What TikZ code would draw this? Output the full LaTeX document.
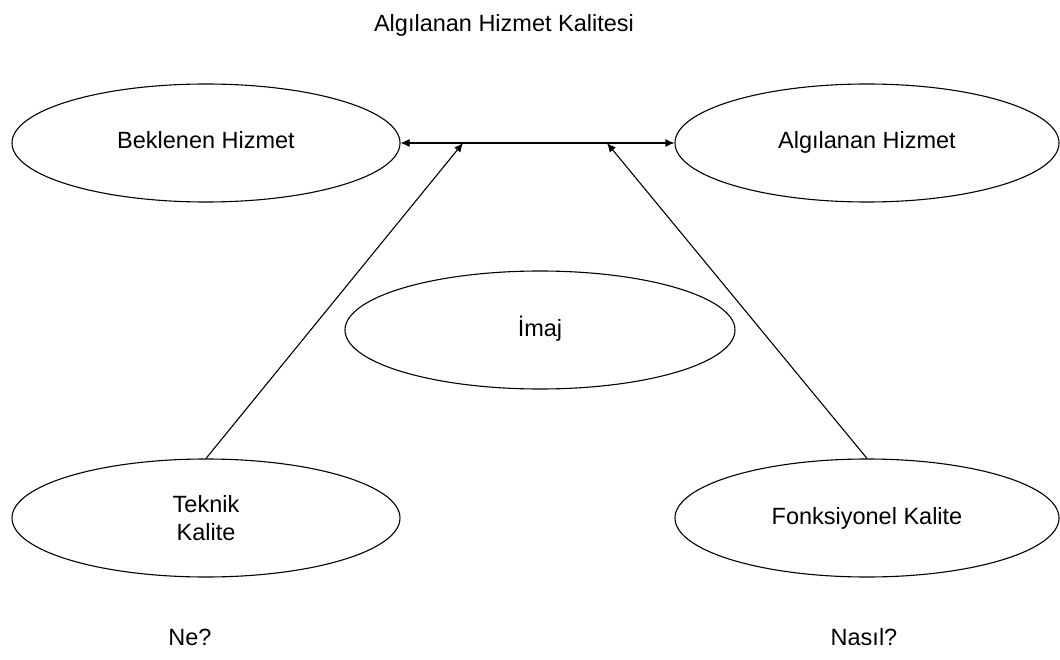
\documentclass[tikz,border=0pt]{standalone}
\usepackage{fontspec}
\setmainfont{Liberation Sans}
\usetikzlibrary{shapes.geometric,arrows.meta}
\begin{document}
\begin{tikzpicture}[x=1pt,y=-1pt,
  oval/.style={draw, ellipse, line width=1.1pt, minimum width=388pt, minimum height=118pt, inner sep=0pt, font=\fontsize{23.5}{28}\selectfont, align=center},
  one/.style={text height=17pt, text depth=5pt},
  lbl/.style={font=\fontsize{23.5}{28}\selectfont, inner sep=0pt},
  conn/.style={line width=1.1pt, -{Latex[length=9pt,width=8pt]}},
  dconn/.style={line width=1.1pt, {Latex[length=9pt,width=8pt]}-{Latex[length=9pt,width=8pt]}}]
\useasboundingbox (0,0) rectangle (1060,660);
\node[lbl] (title) at (504,25) {Algılanan Hizmet Kalitesi};
\node[oval, one] (bek) at (206,143) {Beklenen Hizmet};
\node[oval, one, minimum width=384pt] (alg) at (867,143) {Algılanan Hizmet};
\node[oval, one, minimum width=390pt] (imaj) at (540,330) {İmaj};
\node[oval] (tek) at (206,518) {Teknik\\Kalite};
\node[oval, one, minimum width=384pt] (fon) at (867,518) {Fonksiyonel Kalite};
\node[lbl] (ne) at (190,637) {Ne?};
\node[lbl] (nasil) at (864,637) {Nasıl?};
\coordinate (tl) at (463,143);
\coordinate (tr) at (607,143);
\draw[dconn] (bek.east) -- (alg.west);
\draw[conn] (tek.north) -- (tl);
\draw[conn] (fon.north) -- (tr);
\end{tikzpicture}
\end{document}
